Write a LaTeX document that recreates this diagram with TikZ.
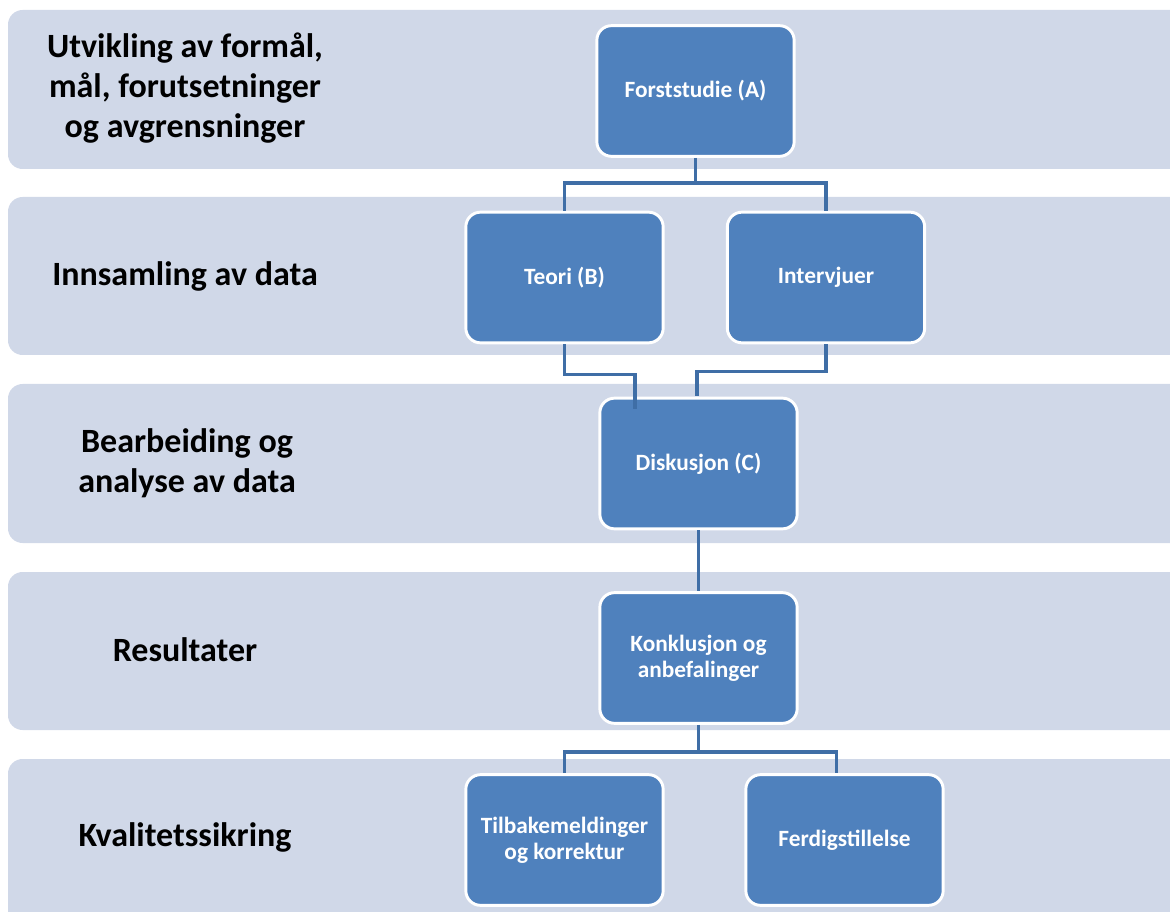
\documentclass[tikz,border=0pt]{standalone}
\usepackage{fontspec}
\setmainfont{Carlito}
\begin{document}
\begin{tikzpicture}[x=0.75pt,y=-0.75pt,
  band/.style={fill=bandfill,draw=none,rounded corners=11pt},
  phase/.style={font=\bfseries\fontsize{25.5}{30}\selectfont,align=center,text=black},
  stepbox/.style={rectangle,rounded corners=11pt,fill=boxblue,draw=white,line width=2.2pt,
    minimum width=148pt,minimum height=98pt,inner sep=2pt,
    font=\bfseries\fontsize{17.5}{19.5}\selectfont,text=white,align=center},
  link/.style={draw=linkblue,line width=2.4pt}]
\definecolor{bandfill}{HTML}{D0D8E8}
\definecolor{boxblue}{HTML}{4F81BD}
\definecolor{linkblue}{HTML}{3F6EA6}
\useasboundingbox (0,0) rectangle (1170,912);
\fill[white] (0,0) rectangle (1170,912);

% horizontal phase bands, running off the right edge
\foreach \t/\b in {10/169,197/355,384/543,572/730,759/930}
  \fill[band] (8,\t) rectangle (1200,\b);

% phase labels
\node[phase] (p1) at (185,88) {Utvikling av formål,\\mål, forutsetninger\\og avgrensninger};
\node[phase] (p2) at (185,276) {Innsamling av data};
\node[phase] (p3) at (187,463) {Bearbeiding og\\analyse av data};
\node[phase] (p4) at (185,650) {Resultater};
\node[phase] (p5) at (185,837) {Kvalitetssikring};

% work steps
\node[stepbox] (forst) at (695.5,91) {Forststudie (A)};
\node[stepbox] (teori) at (564.5,277.5) {Teori (B)};
\node[stepbox] (intv) at (826,277.5) {Intervjuer};
\node[stepbox] (disk) at (698.5,463.5) {Diskusjon (C)};
\node[stepbox] (konk) at (698.5,658) {Konklusjon og\\anbefalinger};
\node[stepbox] (tilb) at (564.5,840) {Tilbakemeldinger\\og korrektur};
\node[stepbox] (ferd) at (844.5,840) {Ferdigstillelse};

% branch and junction points
\coordinate (fsplit) at (695.5,183);
\coordinate (tdrop) at (635,409);
\coordinate (idrop) at (697,396);
\coordinate (ksplit) at (698.5,752);

% connectors
\draw[link] (forst.south) -- (fsplit) -| (teori.north);
\draw[link] (fsplit) -| (intv.north);
\draw[link] (teori.south) -- ++(0,30) -| (tdrop);
\draw[link] (intv.south) -- ++(0,27) -| (idrop);
\draw[link] (disk.south) -- (konk.north);
\draw[link] (konk.south) -- (ksplit) -| (tilb.north);
\draw[link] (ksplit) -| ([xshift=-6]ferd.north);
\end{tikzpicture}
\end{document}
